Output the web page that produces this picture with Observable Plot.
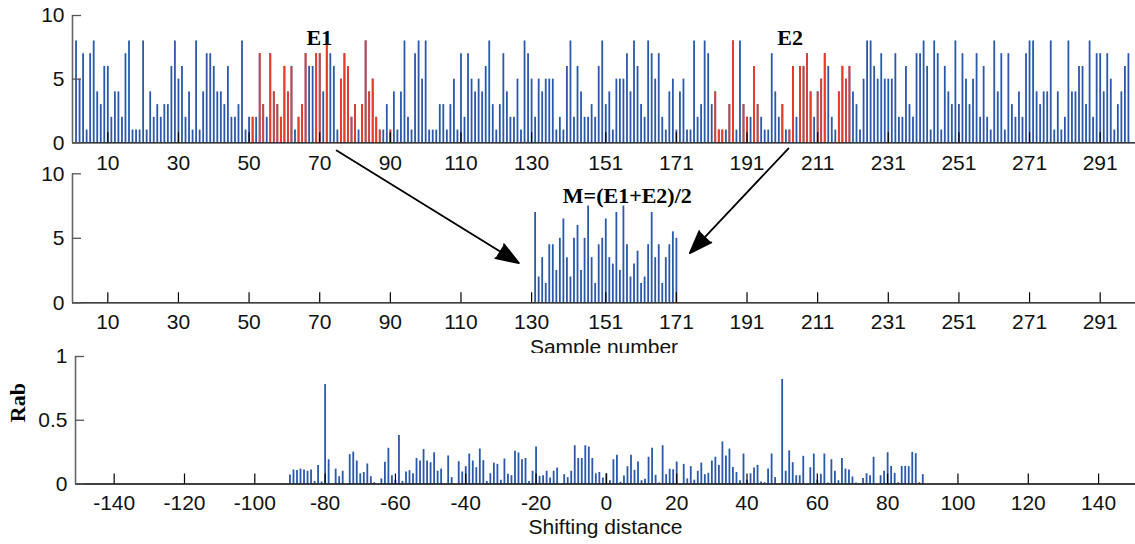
<!DOCTYPE html>
<html><head><meta charset="utf-8">
<script src="https://cdn.jsdelivr.net/npm/d3@7"></script>
<script src="https://cdn.jsdelivr.net/npm/@observablehq/plot@0.6"></script>
<style>
body{margin:0;background:#fff;}
#wrap{position:relative;width:1135px;height:544px;overflow:hidden;background:#fff;}
#wrap svg{position:absolute;left:0;}
</style></head><body><div id="wrap"></div>
<script>
// ---- data ----
// top panel: values of samples 1..299
const sampleValues = [
8,5,7,1,7,8,4,3,6,6, 2,4,4,2,7,8,1,1,1,8, 1,4,2,3,2,3,3,6,8,5,
6,2,4,1,8,1,4,7,7,6, 4,4,3,6,2,2,3,8,1,2, 2,2,7,3,2,7,4,3,2,6,
4,6,1,2,3,7,6,6,7,7, 4,8,7,6,1,5,7,6,2,3, 1,3,8,4,5,2,1,1,3,1,
4,1,4,8,2,1,7,8,5,8, 1,1,1,3,3,1,3,5,1,7, 2,7,5,4,5,4,6,8,3,1,
3,7,4,2,2,5,1,8,7,5, 2,5,4,5,5,5,1,2,1,6, 8,2,6,4,2,2,3,2,6,8,
3,4,1,5,5,5,7,4,8,6, 3,2,8,7,5,7,2,1,4,5, 1,4,5,1,1,8,2,3,8,7,
3,4,1,1,1,3,8,1,8,3, 2,2,6,3,2,1,1,7,4,2, 3,1,1,6,2,6,6,7,4,2,
4,5,7,6,2,1,4,6,5,6, 4,3,1,5,8,8,6,5,7,5, 5,5,7,2,2,6,3,2,7,7,
8,6,1,8,7,1,6,4,3,8, 3,7,5,3,5,7,2,6,2,1, 8,4,7,1,7,3,2,4,2,7,
8,8,4,3,4,4,8,1,4,1, 2,8,4,4,6,6,3,8,2,7, 7,4,7,5,1,3,4,6,7
];
// samples of the E1 and E2 segments drawn in red
const e1Samples = [51,53,54,56,57,58,59,60,61,62,64,65,66,69,70,72,76,77,78,79,80,82,83,84,85,86,87,90];
const e2Samples = [182,183,184,186,187,190,191,193,194,201,203,204,206,207,208,209,211,212,213,217,218,219,220];
// middle panel: M=(E1+E2)/2, samples 131..171
const mStart = 131;
const mValues = [7,2,3.5,1.5,4.5,4.5,2.5,5,6.5,3.5, 2,5,6,2.5,5,7.5,3.5,1.5,4.5,5, 6.5,3.5,3,7,2.5,7.5,4.5,2,3,4, 1.5,2,4.5,7,3.5,4.5,1.5,3.5,4.5,5.5, 5];
// bottom panel: Rab for shifting distance -90..90
const shiftStart = -90;
const rabValues = [
.07,.11,.105,.117,.11,.1,.11,.02,.146,.016, .78,.19,0,.117,.057,.1,0,.23,.25,.18,
.08,.09,.157,.057,.01,0,.04,.17,.28,.065, .03,.38,.02,.094,.104,.08,.2,.18,.27,.18,
.167,.245,.1,.117,0,.22,.05,0,.175,.094, .136,.235,.18,.128,.274,.183,.02,.08,.164,.154,
.03,.196,.076,.065,.256,.243,.19,.2,.02,.1, .29,.06,.065,.1,.047,.1,.125,0,.073,.05,
.1,.3,.2,.2,.3,.29,.2,.08,.09,.047, .08,.026,.19,.225,.013,.063,.136,.225,.107,.172,
.026,.037,.21,.28,.068,.008,.3,.073,.115,.112, .172,0,.154,.04,.136,.03,.1,.164,.073,.084,
.18,.21,.146,.33,.22,.274,.13,.09,.026,.235, .03,.08,.125,.146,.016,.01,.117,.235,.05,0,
.82,.1,.26,.167,.065,.065,.217,0,.128,.235, .03,.076,.235,.008,.19,.1,.026,.2,.117,.11,
.055,.008,0,.044,.08,.065,.21,0,.065,.1, .245,.138,.084,.01,.138,.138,.136,.248,.238,.01,
.073
];
// tick values / labels
const sampleTicks = [10,30,50,70,90,110,130,151,171,191,211,231,251,271,291];
const countTicks = [0,5,10];
const shiftTicks = [-140,-120,-100,-80,-60,-40,-20,0,20,40,60,80,100,120,140];
const rabTicks = [0,0.5,1];
// annotations
const segLabels = [{label:"E1", k:69.9, v:8.2},{label:"E2", k:203.2, v:8.2}];
const mLabel = [{label:"M=(E1+E2)/2", k:157.1, v:8.3}];
const arrows = [{k1:74.8, v1:-0.6, k2:126.4, v2:-9.45},{k1:202.7, v1:-0.45, k2:174.8, v2:-8.67}];

// ---- drawing ----
const W = 1135;
const sans = "Liberation Sans, Arial, sans-serif";
const serif = "Liberation Serif, Times New Roman, serif";
const blue = "#2a58aa", red = "#ec3b24";
const redSet = new Set([...e1Samples, ...e2Samples]);
const topData = sampleValues.map((v,i)=>({k:i+1, v}));
const redData = topData.filter(d=>redSet.has(d.k));
const mData = mValues.map((v,i)=>({k:mStart+i, v}));
const rabData = rabValues.map((v,i)=>({s:shiftStart+i, v}));
const wrap = document.getElementById("wrap");

function frameMarks(xTicks, yTicks, frameW, frameH, xPad, yFmt, xDomain0, yMax){
  return [
    Plot.ruleY([0], {stroke:"#000", strokeWidth:1.3}),
    Plot.ruleX([xDomain0], {y1:0, y2:yMax, stroke:"#666", strokeWidth:1.6}),
    Plot.tickX(xTicks, {x:d=>d, stroke:"#000", strokeWidth:1.2, insetTop: frameH-10}),
    Plot.tickY(yTicks, {y:d=>d, stroke:"#555", strokeWidth:1.3, insetRight: frameW-9}),
    Plot.axisX(xTicks, {label:null, tickSize:0, tickPadding:xPad, tickFormat:d=>String(d), fontSize:21, fontFamily:sans, fill:"#111"}),
    Plot.axisY(yTicks, {label:null, tickSize:0, tickPadding:8, tickFormat:yFmt, fontSize:21, fontFamily:sans, fill:"#111"})
  ];
}

// top panel
const p1 = Plot.plot({
  width: W, height: 280,
  marginLeft: 72, marginRight: 0, marginTop: 15, marginBottom: 137.7,
  style: {background:"transparent", overflow:"visible", fontFamily:sans, fontSize:"21px"},
  x: {domain:[0,301], label:null},
  y: {domain:[0,10], label:null},
  marks: [
    Plot.ruleX(topData, {x:"k", y1:0, y2:"v", stroke:blue, strokeWidth:1.8}),
    Plot.ruleX(redData, {x:"k", y1:0, y2:"v", stroke:red, strokeWidth:1.8}),
    ...frameMarks(sampleTicks, countTicks, 1063, 127.3, 12, d=>String(d), 0, 10),
    Plot.text(segLabels, {x:"k", y:"v", text:"label", fontFamily:serif, fontWeight:"bold", fontSize:22, fill:"#000"}),
    Plot.arrow(arrows, {x1:"k1", y1:"v1", x2:"k2", y2:"v2", stroke:"#000", fill:"#000", strokeWidth:1.8, headLength:20, headAngle:40})
  ]
});
p1.style.top = "0px";
wrap.appendChild(p1);

// middle panel
const p2 = Plot.plot({
  width: W, height: 193,
  marginLeft: 72, marginRight: 0, marginTop: 13.3, marginBottom: 50.7,
  style: {background:"transparent", overflow:"hidden", fontFamily:sans, fontSize:"21px"},
  x: {domain:[0,301], label:null},
  y: {domain:[0,10], label:null},
  marks: [
    Plot.ruleX(mData, {x:"k", y1:0, y2:"v", stroke:blue, strokeWidth:1.8}),
    ...frameMarks(sampleTicks, countTicks, 1063, 129, 11, d=>String(d), 0, 10),
    Plot.text(mLabel, {x:"k", y:"v", text:"label", fontFamily:serif, fontWeight:"bold", fontSize:22, fill:"#000"}),
    Plot.text(["Sample number"], {frameAnchor:"bottom", dy:51, fontFamily:sans, fontSize:21, fill:"#111"})
  ]
});
p2.style.top = "160px";
wrap.appendChild(p2);

// bottom panel
const p3 = Plot.plot({
  width: W, height: 204,
  marginLeft: 75, marginRight: 0, marginTop: 16, marginBottom: 60.5,
  style: {background:"transparent", overflow:"visible", fontFamily:sans, fontSize:"21px"},
  x: {domain:[-151,150.5], label:null},
  y: {domain:[0,1], label:null},
  marks: [
    Plot.ruleX(rabData, {x:"s", y1:0, y2:"v", stroke:blue, strokeWidth:1.8}),
    ...frameMarks(shiftTicks, rabTicks, 1060, 127.5, 11, d=>String(d), -151, 1),
    Plot.text(["Shifting distance"], {frameAnchor:"bottom", dy:50, fontFamily:sans, fontSize:21, fill:"#111"}),
    Plot.text(["Rab"], {frameAnchor:"left", dx:-58, dy:2, rotate:-90, fontFamily:serif, fontWeight:"bold", fontSize:22, fill:"#000"})
  ]
});
p3.style.top = "340px";
wrap.appendChild(p3);
</script>
</body></html>
